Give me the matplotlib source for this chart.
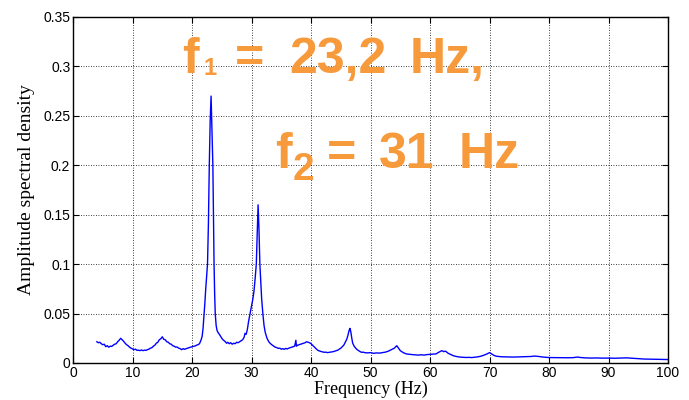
import matplotlib
matplotlib.use('Agg')
import matplotlib.pyplot as plt

# amplitude spectrum
freq_hz = [
    4.00, 4.25, 4.50, 4.75, 5.00, 5.25, 5.50, 5.75, 6.00, 6.25, 6.50, 6.75,
    7.00, 7.25, 7.50, 7.75, 8.00, 8.25, 8.50, 8.75, 9.00, 9.25, 9.50, 9.75,
    10.00, 10.25, 10.50, 10.75, 11.00, 11.25, 11.50, 11.75, 12.00, 12.25, 12.50, 12.75,
    13.00, 13.25, 13.50, 13.75, 14.00, 14.25, 14.50, 14.75, 15.00, 15.25, 15.50, 15.75,
    16.00, 16.25, 16.50, 16.75, 17.00, 17.25, 17.50, 17.75, 18.00, 18.25, 18.50, 18.75,
    19.00, 19.25, 19.50, 19.75, 20.00, 20.25, 20.50, 20.75, 21.00, 21.25, 21.50, 21.70,
    21.85, 22.00, 22.15, 22.30, 22.45, 22.60, 22.75, 22.90, 23.05, 23.20, 23.35, 23.50,
    23.60, 23.70, 23.80, 23.90, 24.05, 24.20, 24.40, 24.60, 24.80, 25.00, 25.20, 25.40,
    25.60, 25.80, 26.00, 26.25, 26.50, 26.75, 27.00, 27.25, 27.50, 27.75, 28.00, 28.25,
    28.50, 28.75, 28.90, 29.10, 29.30, 29.50, 29.75, 30.00, 30.20, 30.40, 30.60, 30.80,
    30.95, 31.10, 31.25, 31.40, 31.55, 31.70, 31.90, 32.10, 32.30, 32.60, 32.90, 33.20,
    33.50, 33.75, 34.00, 34.25, 34.50, 34.75, 35.00, 35.25, 35.50, 35.75, 36.00, 36.25,
    36.50, 36.75, 37.00, 37.25, 37.45, 37.55, 37.75, 38.00, 38.25, 38.50, 38.75, 39.00,
    39.25, 39.50, 39.75, 40.00, 40.25, 40.50, 40.75, 41.00, 41.25, 41.50, 41.75, 42.00,
    42.25, 42.50, 42.75, 43.00, 43.25, 43.50, 43.75, 44.00, 44.25, 44.50, 44.75, 45.00,
    45.25, 45.50, 45.75, 46.00, 46.20, 46.40, 46.55, 46.70, 46.85, 47.00, 47.25, 47.50,
    47.75, 48.00, 48.25, 48.50, 48.75, 49.00, 49.50, 50.00, 50.50, 51.00, 51.50, 52.00,
    52.50, 53.00, 53.50, 54.00, 54.40, 54.70, 55.00, 55.50, 56.00, 56.50, 57.00, 57.50,
    58.00, 58.50, 59.00, 59.50, 60.00, 60.50, 61.00, 61.50, 62.00, 62.30, 62.60, 63.00,
    63.50, 64.00, 64.50, 65.00, 65.50, 66.00, 66.50, 67.00, 67.50, 68.00, 68.50, 69.00,
    69.50, 70.00, 70.40, 70.80, 71.20, 71.60, 72.00, 73.00, 74.00, 75.00, 76.00, 77.00,
    77.50, 78.00, 79.00, 80.00, 81.00, 82.00, 83.00, 84.00, 84.80, 85.20, 86.00, 87.00,
    88.00, 89.00, 90.00, 91.00, 92.00, 93.00, 94.00, 95.00, 96.00, 97.00, 98.00, 99.00,
    100.00,
]
asd = [
    .0215, .0205, .0210, .0195, .0185, .0190, .0165, .0175, .0160, .0170, .0168, .0180,
    .0190, .0195, .0215, .0230, .0250, .0235, .0220, .0200, .0185, .0175, .0160, .0150,
    .0142, .0135, .0140, .0128, .0130, .0125, .0132, .0125, .0130, .0128, .0135, .0140,
    .0150, .0155, .0170, .0180, .0200, .0210, .0235, .0245, .0265, .0240, .0235, .0215,
    .0210, .0195, .0190, .0175, .0170, .0160, .0162, .0150, .0145, .0135, .0145, .0138,
    .0145, .0150, .0155, .0160, .0165, .0168, .0172, .0180, .0185, .0195, .0230, .0270,
    .0350, .0470, .0600, .0750, .0880, .1000, .1400, .2000, .2450, .2700, .2350, .2000,
    .1500, .1000, .0700, .0500, .0380, .0330, .0305, .0290, .0270, .0250, .0235, .0225,
    .0215, .0200, .0210, .0195, .0205, .0190, .0200, .0195, .0210, .0205, .0215, .0225,
    .0235, .0260, .0300, .0290, .0340, .0420, .0500, .0580, .0640, .0720, .0850, .1000,
    .1300, .1600, .1350, .1000, .0820, .0650, .0500, .0380, .0310, .0250, .0215, .0195,
    .0180, .0170, .0160, .0155, .0148, .0150, .0140, .0145, .0138, .0148, .0142, .0150,
    .0155, .0160, .0165, .0170, .0230, .0170, .0180, .0185, .0190, .0195, .0200, .0205,
    .0215, .0210, .0205, .0195, .0180, .0165, .0150, .0135, .0125, .0120, .0115, .0112,
    .0108, .0110, .0105, .0108, .0110, .0112, .0115, .0120, .0125, .0130, .0140, .0150,
    .0165, .0180, .0210, .0240, .0280, .0330, .0350, .0310, .0250, .0200, .0170, .0150,
    .0135, .0125, .0115, .0108, .0110, .0105, .0102, .0105, .0098, .0102, .0100, .0105,
    .0110, .0120, .0135, .0150, .0175, .0150, .0125, .0105, .0092, .0088, .0085, .0082,
    .0080, .0083, .0080, .0085, .0088, .0090, .0092, .0110, .0125, .0115, .0120, .0100,
    .0085, .0072, .0065, .0060, .0058, .0056, .0057, .0055, .0058, .0062, .0068, .0078,
    .0090, .0105, .0090, .0075, .0068, .0065, .0063, .0062, .0060, .0062, .0063, .0066,
    .0070, .0068, .0060, .0055, .0054, .0052, .0053, .0054, .0060, .0056, .0052, .0050,
    .0051, .0049, .0050, .0048, .0050, .0052, .0048, .0045, .0040, .0039, .0037, .0036,
    .0035,
]

xticks = [0, 10, 20, 30, 40, 50, 60, 70, 80, 90, 100]
yticks = [0, 0.05, 0.1, 0.15, 0.2, 0.25, 0.3, 0.35]
ytick_labels = ['0', '0.05', '0.1', '0.15', '0.2', '0.25', '0.3', '0.35']

orange = '#f79a3c'

fig = plt.figure(figsize=(6.89, 4.0), dpi=100)
ax = fig.add_axes([0.106, 0.0925, 0.8636, 0.865])

ax.plot(freq_hz, asd, color='#0000ff', lw=1.0)

ax.set_xlim(0, 100)
ax.set_ylim(0, 0.35)
ax.set_xticks(xticks)
ax.set_yticks(yticks)
ax.set_yticklabels(ytick_labels)
ax.tick_params(direction='in', top=True, right=True, length=4, width=0.8,
               pad=2, labelsize=10)
for lbl in ax.get_xticklabels() + ax.get_yticklabels():
    lbl.set_family('Liberation Sans')
ax.grid(True, color='black', linestyle=(0, (1, 2)), lw=0.6)
for sp in ax.spines.values():
    sp.set_linewidth(1.0)

ax.set_xlabel('Frequency (Hz)', family='Liberation Serif', fontsize=13, labelpad=1)
ax.set_ylabel('Amplitude spectral density', family='Liberation Serif',
              fontsize=14, labelpad=6)


# orange annotation, placed piece by piece (pixel position in the 689x400 figure)
def put(txt, px, py, size):
    fx = (px - 73) / 595.0
    fy = (363 - py) / 346.0
    ax.text(fx, fy, txt, transform=ax.transAxes, color=orange, fontsize=size,
            fontweight='bold', family='Liberation Sans', va='baseline', ha='left')


put('f', 182, 73, 36)
put('1', 203, 75, 17)
put('=', 235, 73, 36)
put('23,2', 289, 73, 36)
put('Hz,', 410, 73, 36)

put('f', 275, 168, 36)
put('2', 293, 180, 28)
put('=', 327, 168, 36)
put('31', 379, 168, 36)
put('Hz', 459, 168, 36)

fig.savefig('out.png', dpi=100)
